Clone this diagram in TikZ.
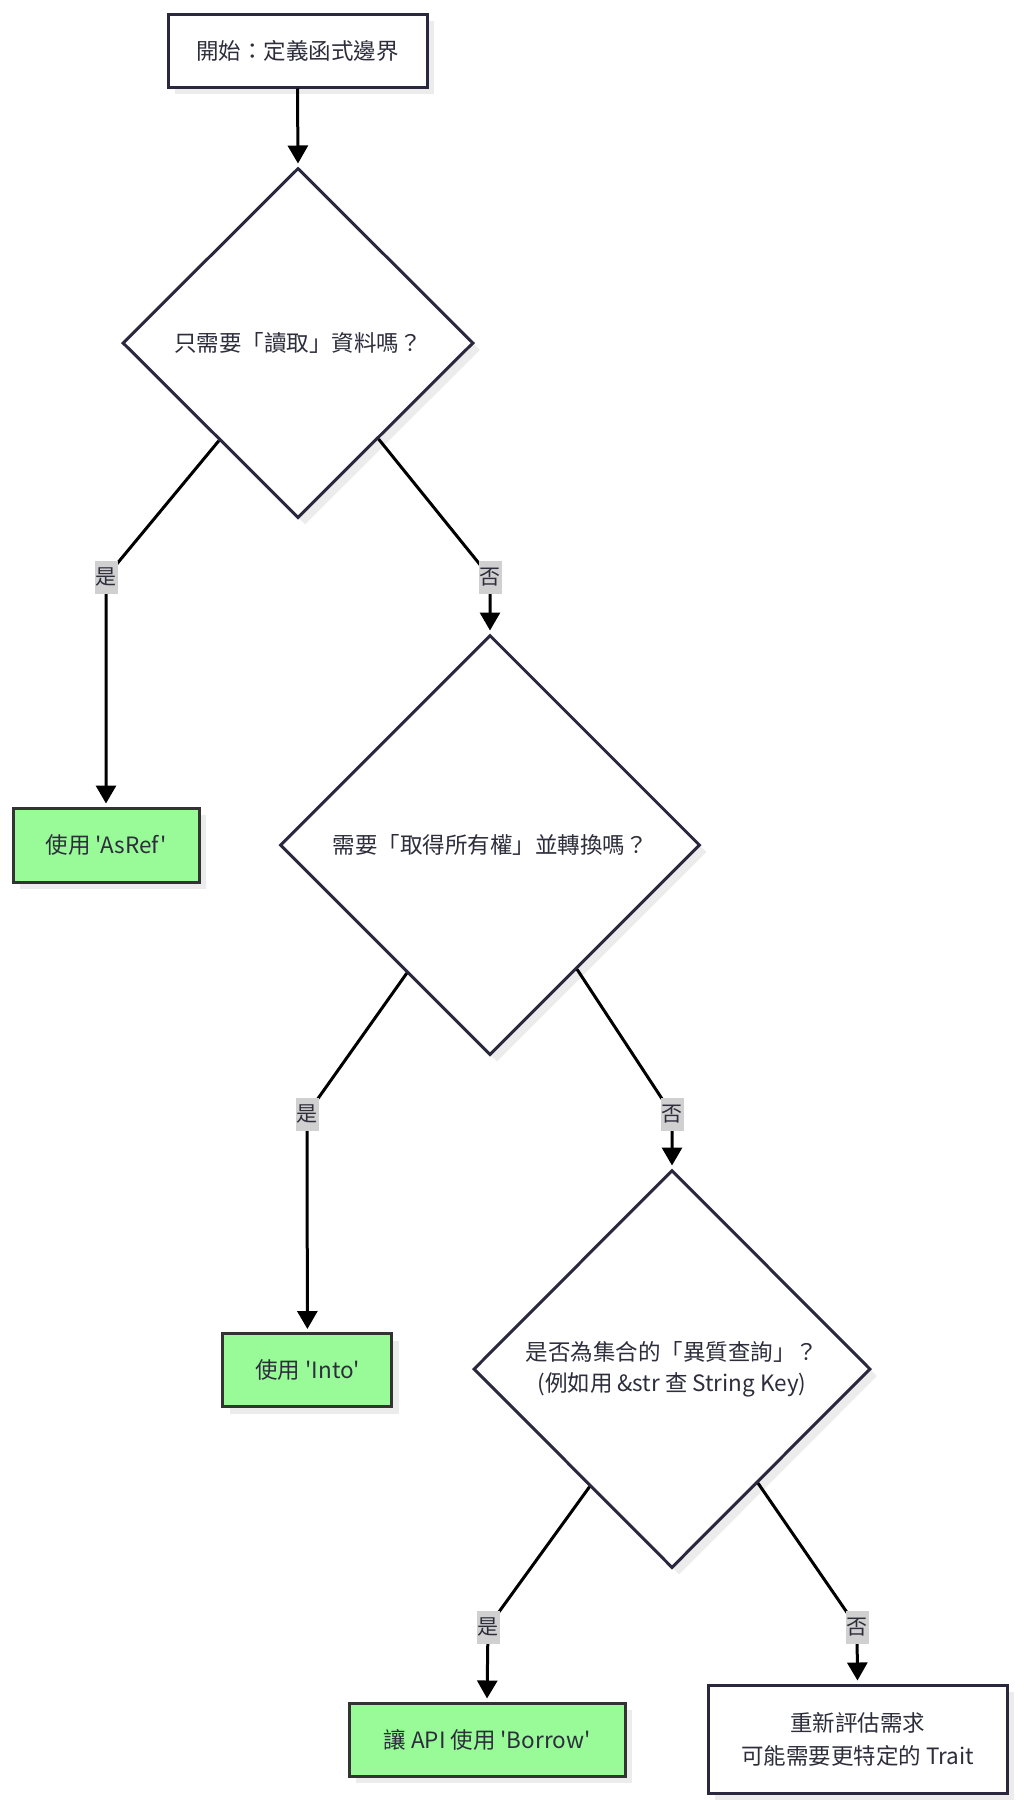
\documentclass[tikz,border=0pt]{standalone}
\usepackage{fontspec}
\newfontfamily\cjk{Noto Sans CJK TC}
\usetikzlibrary{shapes.geometric,arrows.meta,shadows}
\definecolor{navy}{RGB}{42,40,62}
\definecolor{txt}{RGB}{45,45,60}
\definecolor{pgreen}{RGB}{152,251,152}
\definecolor{gborder}{RGB}{51,51,51}
\definecolor{shade}{RGB}{236,236,236}
\definecolor{lblgray}{RGB}{208,208,208}
\begin{document}
\begin{tikzpicture}[x=1pt,y=-1pt,
 every node/.style={font=\cjk\fontsize{22.5}{31}\selectfont, text=txt},
 sh/.style={drop shadow={shadow xshift=7pt,shadow yshift=-7pt,opacity=1,fill=shade}},
 plainbox/.style={rectangle,draw=navy,line width=3pt,fill=white,sh,inner sep=0pt,align=center},
 greenbox/.style={rectangle,draw=gborder,line width=3pt,fill=pgreen,sh,inner sep=0pt},
 decision/.style={diamond,draw=navy,line width=3pt,fill=white,sh,inner sep=0pt,align=center},
 conn/.style={line width=3pt,black},
 arr/.style={conn,-{Triangle[width=20pt,length=18pt]},shorten >=3pt},
 lbl/.style={fill=lblgray,inner sep=0pt,minimum width=23pt,minimum height=33pt,font=\cjk\fontsize{21}{24}\selectfont}
]
\useasboundingbox (0,0) rectangle (1024,1813);
\fill[white] (0,0) rectangle (1024,1813);

% nodes
\node[plainbox,minimum width=259pt,minimum height=73pt] (start) at (297.5,50.5) {開始：定義函式邊界};
\node[decision,minimum width=351pt,minimum height=350pt] (d1) at (298,343) {只需要「讀取」資料嗎？};
\node[greenbox,minimum width=186pt,minimum height=74pt] (asref) at (106,845) {使用 'AsRef'};
\node[decision,minimum width=420pt,minimum height=420pt] (d2) at (490,845) {需要「取得所有權」並轉換嗎？};
\node[greenbox,minimum width=169pt,minimum height=73pt] (into) at (307.4,1370) {使用 'Into'};
\node[decision,minimum width=397pt,minimum height=398pt] (d3) at (672,1369) {是否為集合的「異質查詢」？\\(例如用 \&str 查 String Key)};
\node[greenbox,minimum width=276pt,minimum height=73pt] (borrow) at (487,1739.5) {讓 API 使用 'Borrow'};
\node[plainbox,minimum width=299pt,minimum height=108pt,font=\cjk\fontsize{22.5}{33}\selectfont] (reeval) at (857.5,1739) {重新評估需求\\可能需要更特定的 Trait};

% bend points
\coordinate (b1) at (106,577);
\coordinate (b2) at (490,577);
\coordinate (b3) at (307,1114);
\coordinate (b4) at (672,1114);
\coordinate (b5) at (488,1627);
\coordinate (b6) at (857,1627);

% connectors
\draw[arr] (start.south) -- (d1.north);
\draw[arr] (d1.-129) -- (b1) -- (asref.north);
\draw[arr] (d1.-50.5) -- (b2) -- (d2.north);
\draw[arr] (d2.-123.8) -- (b3) -- (into.north);
\draw[arr] (d2.-55.8) -- (b4) -- (d3.north);
\draw[arr] (d3.-125.1) -- (b5) -- (borrow.north);
\draw[arr] (d3.-53.8) -- (b6) -- (reeval.north);

% labels
\node[lbl] (l1) at (b1) {是};
\node[lbl] (l2) at (b2) {否};
\node[lbl] (l3) at (b3) {是};
\node[lbl] (l4) at (b4) {否};
\node[lbl] (l5) at (b5) {是};
\node[lbl] (l6) at (b6) {否};
\end{tikzpicture}
\end{document}
